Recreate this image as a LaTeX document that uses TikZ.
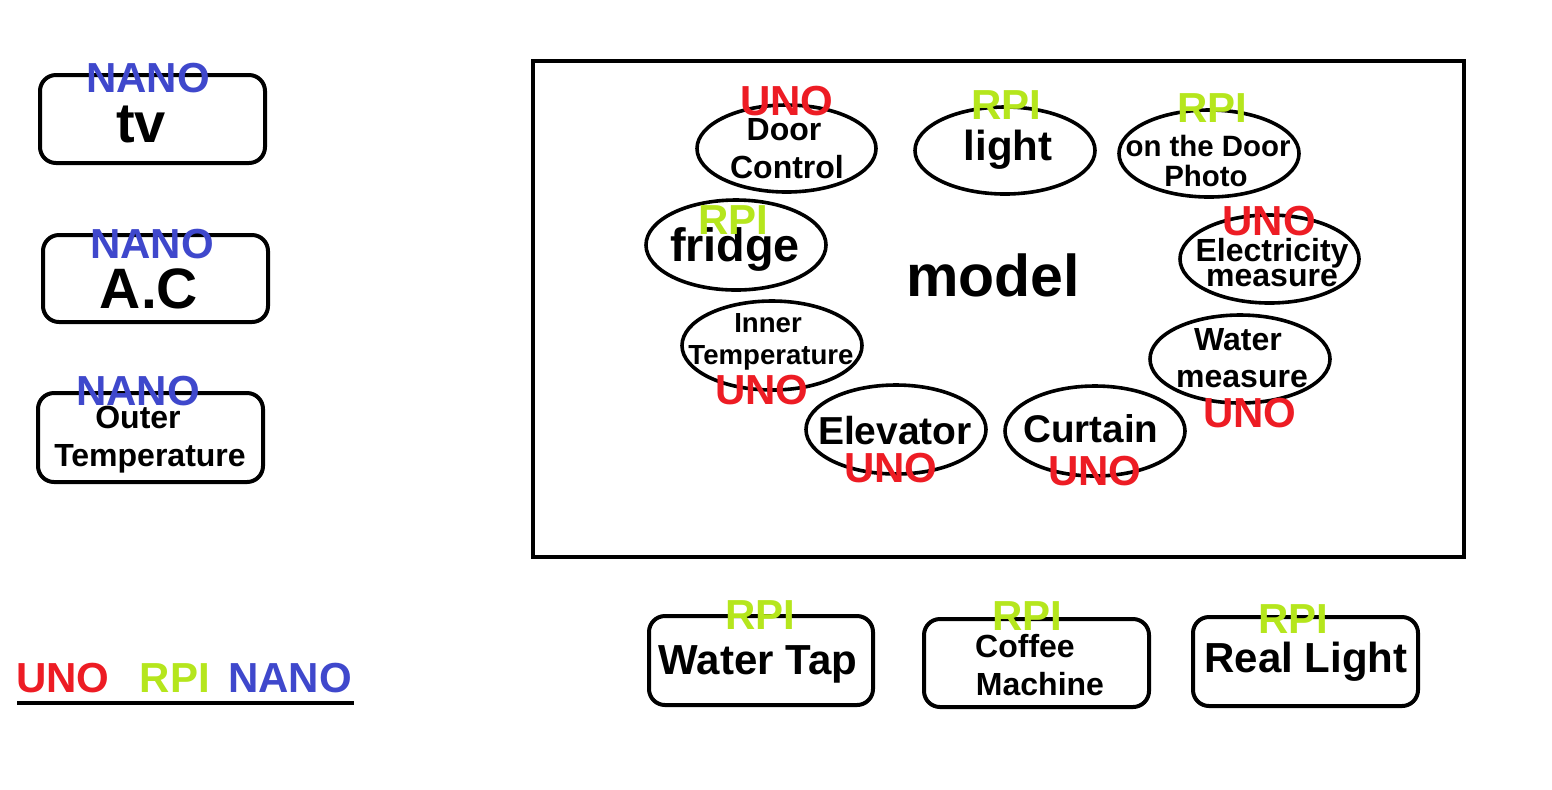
\documentclass[tikz,border=0pt]{standalone}
\usepackage{fontspec}
\setmainfont{Liberation Sans}
\usetikzlibrary{shapes.geometric}
\definecolor{unoRed}{RGB}{237,28,36}
\definecolor{rpiGreen}{RGB}{181,230,29}
\definecolor{nanoBlue}{RGB}{63,72,204}
\newcommand\myfs[1]{\fontsize{#1pt}{#1pt}\selectfont\bfseries}
\tikzset{
  devbox/.style={draw, line width=2pt, rounded corners=8pt, minimum width=#1, inner sep=0pt, outer sep=0pt},
  oval/.style={draw, ellipse, line width=1.8pt, minimum width=90pt, minimum height=44pt, inner sep=0pt, outer sep=0pt},
  txt/.style={anchor=base, inner sep=0pt, outer sep=0pt, font=\myfs{#1}},
  uno/.style={txt=21, text=unoRed},
  rpi/.style={txt=21, text=rpiGreen},
  nano/.style={txt=21, text=nanoBlue},
}
\begin{document}
\begin{tikzpicture}[x=0.5pt,y=-0.5pt]
\useasboundingbox (0,0) rectangle (1552,789);
% left boxes
\node[devbox=112.5pt, minimum height=44pt] (tvbox) at (152.5,119) {};
\node[devbox=112.5pt, minimum height=43.5pt] (acbox) at (155.5,278.5) {};
\node[devbox=112.5pt, minimum height=44.5pt] (outbox) at (150.5,437.5) {};
% main rectangle
\node[draw, line width=2pt, minimum width=465.5pt, minimum height=248pt, inner sep=0pt] (model) at (998.5,309) {};
% ellipses
\node[oval, minimum width=89.5pt, minimum height=43.5pt] (door) at (786.5,148.5) {};
\node[oval, minimum height=43.5pt] (light) at (1005,150.5) {};
\node[oval, minimum height=43.5pt] (photo) at (1209,153.5) {};
\node[oval, minimum height=45pt] (fridge) at (736,245) {};
\node[oval, minimum width=89.5pt] (elec) at (1269.5,259) {};
\node[oval, minimum height=44.5pt] (inner) at (772,345.5) {};
\node[oval] (water) at (1240,359) {};
\node[oval, minimum height=44.5pt] (elev) at (896,429.5) {};
\node[oval, minimum height=45pt] (curt) at (1095,431) {};
% bottom boxes
\node[devbox=112pt, minimum height=44.5pt] (tapbox) at (761,660.5) {};
\node[devbox=112.5pt, minimum height=44pt] (cofbox) at (1036.5,663) {};
\node[devbox=112.5pt, minimum height=44.5pt] (realbox) at (1305.5,661.5) {};
% texts left
\node[txt=28] (tvt) at (141,142) {tv};
\node[nano] (tvn) at (148,92) {NANO};
\node[txt=28.5] (act) at (149,308) {A.C};
\node[nano] (acn) at (152,258) {NANO};
\node[txt=16] (outt1) at (138,428) {Outer};
\node[txt=16] (outt2) at (150,466) {Temperature};
\node[nano] (outn) at (138,405) {NANO};
% model
\node[txt=29.5] (modelt) at (993,296) {model};
% ellipse texts
\node[txt=16] (doort1) at (784,140) {Door};
\node[txt=16] (doort2) at (787,178) {Control};
\node[uno] (dooru) at (787,115) {UNO};
\node[txt=21] (lightt) at (1008,160) {light};
\node[rpi] (lightr) at (1006,119) {RPI};
\node[txt=14.7] (photot1) at (1208,156) {on the Door};
\node[txt=14.7] (photot2) at (1206,186) {Photo};
\node[rpi] (photor) at (1212,122) {RPI};
\node[txt=23.4] (fridget) at (735,261) {fridge};
\node[rpi] (fridger) at (733,234) {RPI};
\node[txt=16] (elect1) at (1272,261) {Electricity};
\node[txt=16] (elect2) at (1272,286) {measure};
\node[uno] (elecu) at (1269,235) {UNO};
\node[txt=13.8] (innert1) at (768,332) {Inner};
\node[txt=13.8] (innert2) at (771,364) {Temperature};
\node[uno] (inneru) at (762,404) {UNO};
\node[txt=16] (watert1) at (1238,350) {Water};
\node[txt=16] (watert2) at (1242,387) {measure};
\node[uno] (wateru) at (1250,427) {UNO};
\node[txt=19.5] (elevt) at (895,444) {Elevator};
\node[uno] (elevu) at (891,482) {UNO};
\node[txt=19.3] (curtt) at (1091,442) {Curtain};
\node[uno] (curtu) at (1095,485) {UNO};
% bottom texts
\node[txt=21] (tapt) at (758,674) {Water Tap};
\node[rpi] (tapr) at (760,629) {RPI};
\node[txt=16] (coft1) at (1025,657) {Coffee};
\node[txt=16] (coft2) at (1040,695) {Machine};
\node[rpi] (cofr) at (1027,630) {RPI};
\node[txt=21] (realt) at (1306,672) {Real Light};
\node[rpi] (realr) at (1293,633) {RPI};
% legend
\node[uno] (legu) at (63,692) {UNO};
\node[rpi] (legr) at (175,692) {RPI};
\node[nano] (legn) at (290,692) {NANO};
\coordinate (lgA) at (17,703);
\coordinate (lgB) at (354,703);
\draw[line width=2pt] (lgA) -- (lgB);
\end{tikzpicture}
\end{document}
